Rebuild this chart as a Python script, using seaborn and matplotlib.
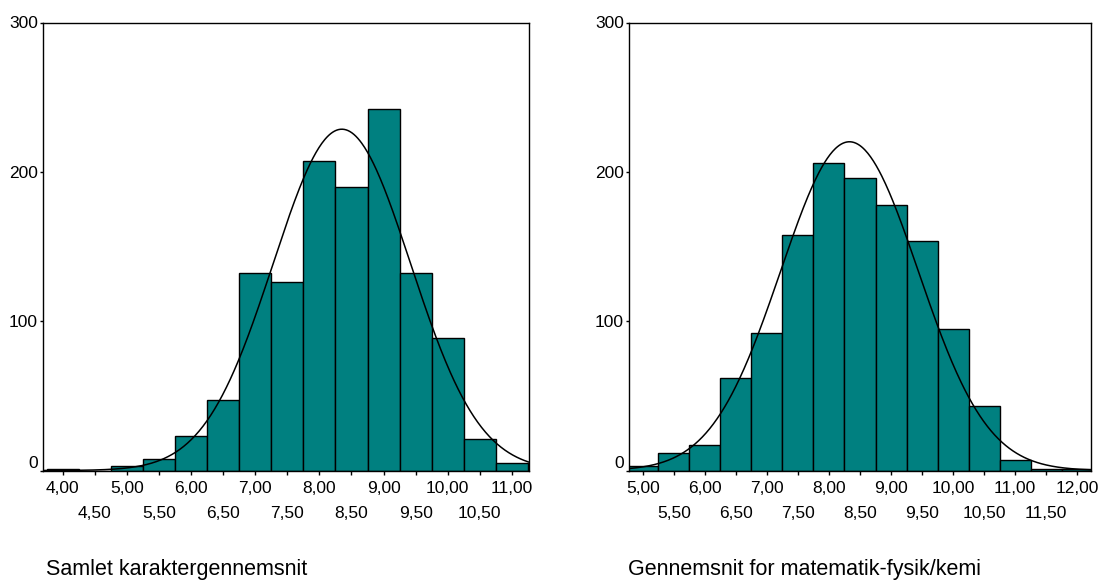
import numpy as np
import pandas as pd
import matplotlib
matplotlib.use("Agg")
import matplotlib.pyplot as plt
import seaborn as sns
from matplotlib.transforms import ScaledTranslation

# ---------------- data ----------------
left_centers = [4.0, 4.5, 5.0, 5.5, 6.0, 6.5, 7.0, 7.5, 8.0, 8.5, 9.0, 9.5, 10.0, 10.5, 11.0]
left_counts = [1, 0, 3, 8, 23, 47, 132, 126, 207, 190, 242, 132, 89, 21, 5]
left_curve_mean = 8.35
left_curve_sd = 1.07
left_title = "Samlet karaktergennemsnit"
left_major = [4, 5, 6, 7, 8, 9, 10, 11]
left_minor = [4.5, 5.5, 6.5, 7.5, 8.5, 9.5, 10.5]

right_centers = [5.0, 5.5, 6.0, 6.5, 7.0, 7.5, 8.0, 8.5, 9.0, 9.5, 10.0, 10.5, 11.0, 11.5, 12.0]
right_counts = [3, 12, 17, 62, 92, 158, 206, 196, 178, 154, 95, 43, 7, 1, 1]
right_curve_mean = 8.33
right_curve_sd = 1.11
right_title = "Gennemsnit for matematik-fysik/kemi"
right_major = [5, 6, 7, 8, 9, 10, 11, 12]
right_minor = [5.5, 6.5, 7.5, 8.5, 9.5, 10.5, 11.5]

y_ticks = [0, 100, 200, 300]

# ---------------- style ----------------
sns.set_style("ticks")
plt.rcParams["font.family"] = ["Liberation Sans", "DejaVu Sans"]
plt.rcParams["axes.linewidth"] = 1.0
plt.rcParams["axes.edgecolor"] = "black"
plt.rcParams["text.color"] = "black"

BAR = "#008080"
fig = plt.figure(figsize=(11.0, 5.81), dpi=100)

def fmt(v):
    return f"{v:.2f}".replace(".", ",")

def panel(rect, centers, counts, mu, sd, major, minor, xlim, title, title_x):
    ax = fig.add_axes(rect)
    df = pd.DataFrame({"value": centers, "count": counts})
    c = np.asarray(centers, float)
    bw = float(c[1] - c[0])
    edges = [float(v) for v in np.append(c - bw / 2, c[-1] + bw / 2)]
    sns.histplot(data=df, x="value", weights="count", bins=edges, color=BAR, alpha=1,
                 edgecolor="black", linewidth=1.0, ax=ax)
    n = float(np.sum(counts))
    xs = np.linspace(xlim[0], xlim[1], 500)
    ys = n * bw * np.exp(-0.5 * ((xs - mu) / sd) ** 2) / (sd * np.sqrt(2 * np.pi))
    sns.lineplot(x=xs, y=ys, color="black", linewidth=1.1, ax=ax)
    ax.set_xlim(*xlim)
    ax.set_ylim(0, 300)
    ax.set_xlabel("")
    ax.set_ylabel("")
    for s in ax.spines.values():
        s.set_visible(True)
        s.set_color("black")
        s.set_linewidth(1.0)
    ax.set_xticks(major)
    ax.set_xticklabels([fmt(v) for v in major])
    ax.set_xticks(minor, minor=True)
    ax.set_xticklabels([fmt(v) for v in minor], minor=True)
    ax.tick_params(axis="x", which="both", direction="out", length=3, width=1,
                   labelsize=12.5, colors="black")
    ax.tick_params(axis="x", which="major", pad=4.5)
    ax.tick_params(axis="x", which="minor", pad=22.5)
    ax.set_yticks(y_ticks)
    ax.set_yticklabels([str(v) for v in y_ticks])
    ax.tick_params(axis="y", direction="out", length=2.5, width=1, pad=1.5,
                   labelsize=12.5, colors="black")
    lab0 = ax.get_yticklabels()[0]
    lab0.set_transform(lab0.get_transform() + ScaledTranslation(0, 8 / 100, fig.dpi_scale_trans))
    fig.text(title_x, 1 - 569 / 581, title, fontsize=15.5, va="center", ha="left",
             color="black")
    return ax

panel([43.3 / 1100, (581 - 470.5) / 581, 486 / 1100, 448 / 581],
      left_centers, left_counts, left_curve_mean, left_curve_sd,
      left_major, left_minor, (3.70, 11.27), left_title, 46 / 1100)
panel([629.3 / 1100, (581 - 470.5) / 581, 461.4 / 1100, 448 / 581],
      right_centers, right_counts, right_curve_mean, right_curve_sd,
      right_major, right_minor, (4.78, 12.22), right_title, 628 / 1100)

fig.savefig("out.png", dpi=100)
